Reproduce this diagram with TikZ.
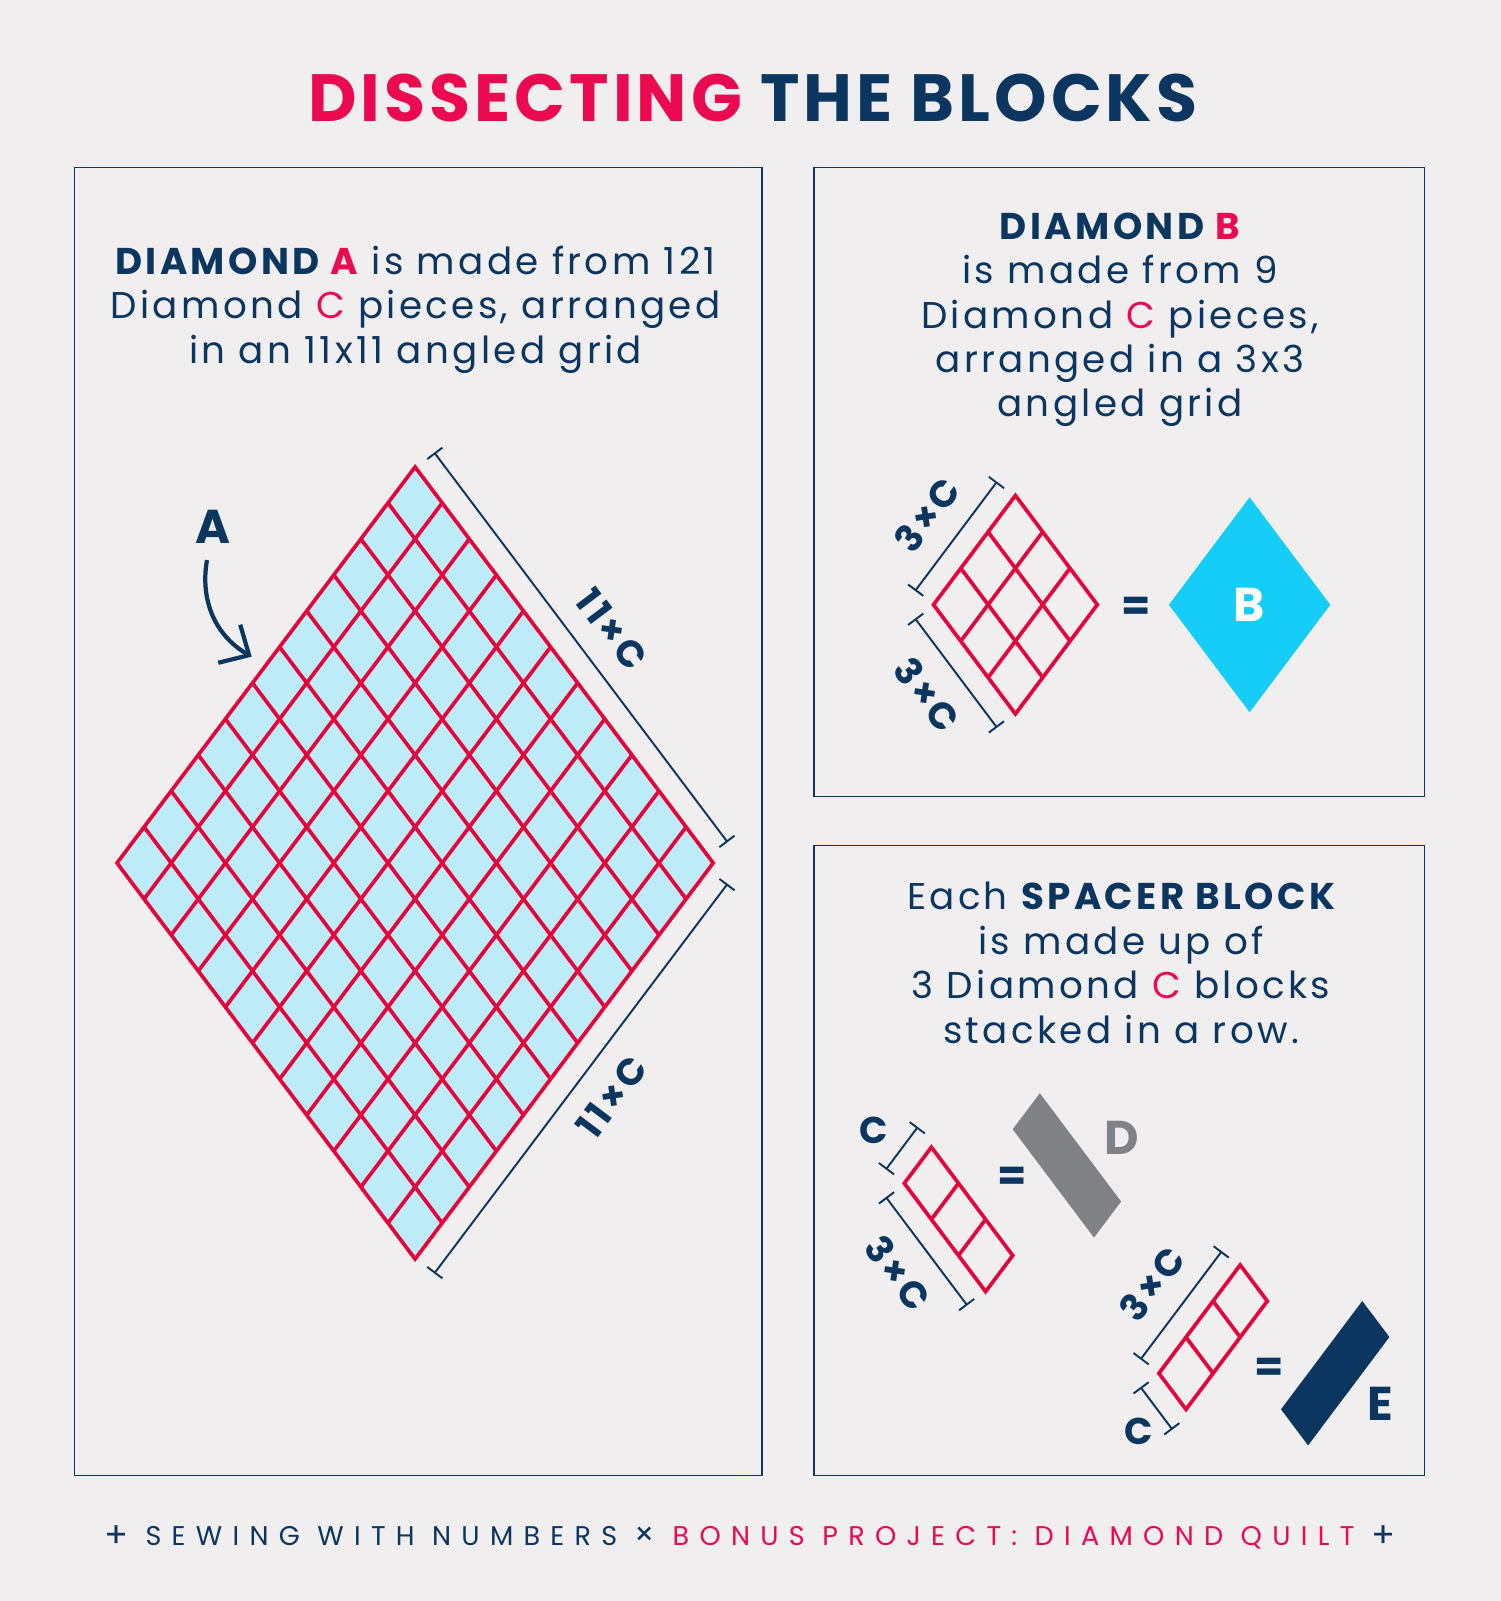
\documentclass[tikz,border=0pt]{standalone}
\usepackage{fontspec}
\setmainfont{Poppins}[LetterSpace=9]
\newfontfamily\titlefont{Poppins}[LetterSpace=6]
\newfontfamily\footfont{Poppins}[LetterSpace=38]
\usepackage{tikz}
\usetikzlibrary{arrows.meta,calc}
\definecolor{navyT}{HTML}{0B3660}
\definecolor{redP}{HTML}{EB0A4F}
\definecolor{gridRed}{HTML}{E3063A}
\definecolor{skyA}{HTML}{BEEBF8}
\definecolor{cyanB}{HTML}{15CDF6}
\definecolor{greyD}{HTML}{808285}
\definecolor{paperbg}{HTML}{F1EEEF}

\begin{document}
\begin{tikzpicture}[
  panel/.style={draw=navyT,line width=0.55pt},
  gridline/.style={draw=gridRed,line width=1.05pt,line join=miter},
  dimline/.style={draw=navyT,line width=0.55pt,{Bar[width=5.4pt]}-{Bar[width=5.4pt]}},
  dimlabel/.style={navyT,font=\bfseries\fontsize{10.6}{12}\selectfont,inner sep=0pt,outer sep=0.22cm,midway,sloped},
  blurb/.style={navyT,align=center,font=\fontsize{10.6}{12.66}\selectfont,inner sep=0pt,anchor=base},
  tag/.style={font=\bfseries\fontsize{13.5}{14}\selectfont,inner sep=0pt},
  equals/.style={navyT,font=\bfseries\fontsize{12}{12}\selectfont,inner sep=0pt}]

\fill[paperbg] (0,0) rectangle (15.01,16.01);
\useasboundingbox (0,0) rectangle (15.01,16.01);

% title
\node[anchor=base,navyT,font=\titlefont\bfseries\fontsize{19}{22}\selectfont] (title) at (7.53,14.793) {\textcolor{redP}{DISSECTING} THE BLOCKS};

% panels
\draw[panel] (0.745,1.255) rectangle (7.617,14.335);
\draw[panel] (8.14,8.045) rectangle (14.245,14.335);
\draw[panel] (8.14,1.255) rectangle (14.245,7.555);

% --- diamond A, 11x11 ---
\node[blurb] (blurbA) at (4.156,12.377) {{\bfseries DIAMOND \textcolor{redP}{A}} is made from 121\\Diamond \textcolor{redP}{C} pieces, arranged\\in an 11x11 angled grid};
\begin{scope}[cm={0.271,0.36,0.271,-0.36,(1.17,7.38)}]
\fill[skyA] (0,0) -- (11,0) -- (11,11) -- (0,11) -- cycle;
\foreach \i in {1,...,10}{
  \draw[gridline] (\i,0) -- (\i,11);
  \draw[gridline] (0,\i) -- (11,\i);
}
\draw[gridline] (0,0) -- (11,0) -- (11,11) -- (0,11) -- cycle;
\coordinate (Aleft) at (0,0);
\coordinate (Atop) at (11,0);
\coordinate (Abot) at (0,11);
\coordinate (Aright) at (11,11);
\end{scope}
\draw[dimline,shorten >=0.08cm] ($(Atop)!0.24cm!90:(Aright)$) -- ($(Aright)!0.24cm!-90:(Atop)$) node[dimlabel,above] (dimAup) {11×C};
\draw[dimline,shorten <=0.08cm] ($(Aright)!0.24cm!90:(Abot)$) -- ($(Abot)!0.24cm!-90:(Aright)$) node[dimlabel,below] (dimAlow) {11×C};
\node[tag,navyT] (tagA) at (2.13,10.743) {A};
\coordinate (tipA) at (2.517,9.443);
\draw[navyT,line width=1.2pt,-{Straight Barb[length=6.5pt,width=12.5pt]}] ([xshift=-0.06cm,yshift=-0.16cm]tagA.south) to[out=-100,in=150] (tipA);

% --- diamond B, 3x3 ---
\node[blurb] (blurbB) at (11.2,11.84) {{\bfseries DIAMOND \textcolor{redP}{B}}\\is made from 9\\Diamond \textcolor{redP}{C} pieces,\\arranged in a 3x3\\angled grid};
\begin{scope}[cm={0.273,0.364,0.273,-0.364,(9.335,9.963)}]
\foreach \i in {1,2}{
  \draw[gridline] (\i,0) -- (\i,3);
  \draw[gridline] (0,\i) -- (3,\i);
}
\draw[gridline] (0,0) -- (3,0) -- (3,3) -- (0,3) -- cycle;
\coordinate (Bleft) at (0,0);
\coordinate (Btop) at (3,0);
\coordinate (Bbot) at (0,3);
\end{scope}
\draw[dimline] ($(Bleft)!0.23cm!90:(Btop)$) -- ($(Btop)!0.23cm!-90:(Bleft)$) node[dimlabel,above] (dimBup) {3×C};
\draw[dimline] ($(Bleft)!0.23cm!-90:(Bbot)$) -- ($(Bbot)!0.23cm!90:(Bleft)$) node[dimlabel,below] (dimBlow) {3×C};
\node[equals] (eqB) at (11.363,9.922) {=};
\fill[cyanB] (12.496,11.037) -- (13.303,9.962) -- (12.496,8.887) -- (11.689,9.962) -- cycle;
\node[tag,white] (tagB) at (12.496,9.962) {B};

% --- spacer blocks ---
\node[blurb] (blurbS) at (11.21,5.577) {Each {\bfseries SPACER BLOCK}\\is made up of\\3 Diamond \textcolor{redP}{C} blocks\\stacked in a row.};
\begin{scope}[cm={0.271,0.361,0.271,-0.361,(9.043,4.177)}]
\draw[gridline] (0,1) -- (1,1);
\draw[gridline] (0,2) -- (1,2);
\draw[gridline] (0,0) -- (1,0) -- (1,3) -- (0,3) -- cycle;
\coordinate (Dleft) at (0,0);
\coordinate (Dtop) at (1,0);
\coordinate (Dbot) at (0,3);
\end{scope}
\draw[dimline,shorten >=-0.08cm] ($(Dleft)!0.23cm!90:(Dtop)$) -- ($(Dtop)!0.23cm!-90:(Dleft)$);
\node[navyT,font=\bfseries\fontsize{10.6}{12}\selectfont,inner sep=0pt] (dimDc) at (8.739,4.71) {C};
\draw[dimline] ($(Dleft)!0.23cm!-90:(Dbot)$) -- ($(Dbot)!0.23cm!90:(Dleft)$) node[dimlabel,below] (dimD3) {3×C};
\node[equals] (eqD) at (10.123,4.218) {=};
\fill[greyD,cm={0.271,0.361,0.271,-0.361,(10.127,4.717)}] (0,0) -- (1,0) -- (1,3) -- (0,3) -- cycle;
\node[tag,greyD] (tagD) at (11.213,4.627) {D};

\begin{scope}[cm={0.271,0.361,0.271,-0.361,(11.589,2.277)}]
\draw[gridline] (1,0) -- (1,1);
\draw[gridline] (2,0) -- (2,1);
\draw[gridline] (0,0) -- (3,0) -- (3,1) -- (0,1) -- cycle;
\coordinate (Eleft) at (0,0);
\coordinate (Etop) at (3,0);
\coordinate (Ebot) at (0,1);
\end{scope}
\draw[dimline] ($(Eleft)!0.23cm!90:(Etop)$) -- ($(Etop)!0.23cm!-90:(Eleft)$) node[dimlabel,above] (dimE3) {3×C};
\draw[dimline,shorten >=-0.08cm] ($(Eleft)!0.23cm!-90:(Ebot)$) -- ($(Ebot)!0.23cm!90:(Eleft)$);
\node[navyT,font=\bfseries\fontsize{10.6}{12}\selectfont,inner sep=0pt] (dimEc) at (11.382,1.693) {C};
\node[equals] (eqE) at (12.687,2.308) {=};
\fill[navyT,cm={0.271,0.361,0.271,-0.361,(12.81,1.917)}] (0,0) -- (3,0) -- (3,1) -- (0,1) -- cycle;
\node[tag,navyT] (tagE) at (13.80,1.97) {E};

% footer
\node[anchor=base,navyT,font=\footfont\fontsize{7.7}{9}\selectfont] (footer) at (7.50,0.56) {{\fontsize{10}{10}\selectfont\raisebox{-0.7pt}{+}} SEWING WITH NUMBERS {\fontsize{9}{9}\selectfont ×} \textcolor{redP}{BONUS PROJECT: DIAMOND QUILT} {\fontsize{10}{10}\selectfont\raisebox{-0.7pt}{+}}};
\end{tikzpicture}
\end{document}
